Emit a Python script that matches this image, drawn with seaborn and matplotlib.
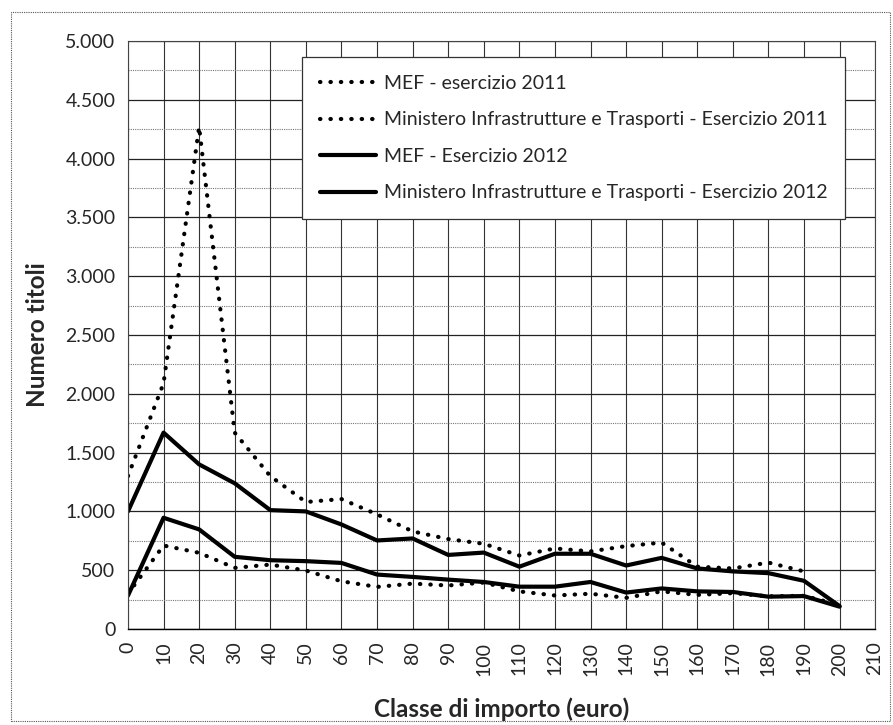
import numpy as np
import pandas as pd
import seaborn as sns
import matplotlib.pyplot as plt
from matplotlib.ticker import MultipleLocator, FuncFormatter
from matplotlib.patches import Rectangle

# dati
classi = list(range(0, 210, 10))
mef_2011 = [1300, 2090, 4270, 1670, 1300, 1080, 1105, 975, 830, 765, 725,
            625, 685, 660, 705, 735, 530, 515, 565, 490]
mit_2011 = [300, 710, 648, 520, 548, 497, 406, 358, 386, 370, 395,
            320, 285, 300, 265, 320, 290, 305, 278, 282, 205]
mef_2012 = [1000, 1670, 1400, 1239, 1011, 1000, 889, 753, 770, 630, 650,
            530, 640, 640, 540, 605, 515, 490, 475, 410, 195]
mit_2012 = [284, 946, 847, 614, 585, 577, 562, 463, 443, 420, 400,
            360, 360, 400, 310, 345, 320, 315, 275, 280, 190]

etichette = ["MEF - esercizio 2011",
             "Ministero Infrastrutture e Trasporti - Esercizio 2011",
             "MEF - Esercizio 2012",
             "Ministero Infrastrutture e Trasporti - Esercizio 2012"]
serie = [mef_2011, mit_2011, mef_2012, mit_2012]

sns.set_style("white")
plt.rcParams['font.family'] = ['Lato', 'DejaVu Sans']

fig = plt.figure(figsize=(8.93, 7.25), dpi=100)
ax = fig.add_axes([0.1433, 0.1324, 0.8367, 0.811])

dotted = (0, (0.1, 2.4))
for nome, valori in zip(etichette, serie):
    df = pd.DataFrame({"classe": classi[:len(valori)], "titoli": valori})
    stile = dotted if "2011" in nome else "-"
    sns.lineplot(data=df, x="classe", y="titoli", ax=ax, color="black",
                 lw=3.0, linestyle=stile, dash_capstyle="round", label=nome)

ax.set_xlim(0, 210)
ax.set_ylim(0, 5000)
ax.xaxis.set_major_locator(MultipleLocator(10))
ax.yaxis.set_major_locator(MultipleLocator(500))
ax.yaxis.set_minor_locator(MultipleLocator(250))
ax.yaxis.set_major_formatter(FuncFormatter(lambda v, p: f"{int(v):,}".replace(",", ".")))

ax.grid(axis="y", which="major", color="#222222", lw=0.9)
ax.grid(axis="y", which="minor", color="#777777", lw=0.8, linestyle=(0, (1, 1)))
ax.grid(axis="x", which="major", color="#333333", lw=0.8)
ax.set_axisbelow(True)
for s in ax.spines.values():
    s.set_color("#444444")
    s.set_linewidth(0.8)
ax.spines["bottom"].set_color("black")
ax.spines["bottom"].set_linewidth(1.0)

ax.tick_params(axis="both", which="major", direction="out", length=5,
               width=0.8, color="#333333", labelsize=14, pad=4)
ax.tick_params(axis="y", which="minor", length=0)
plt.setp(ax.get_xticklabels(), rotation=90)

ax.set_xlabel("Classe di importo (euro)", fontsize=17.5, fontweight="bold", labelpad=16)
ax.set_ylabel("Numero titoli", fontsize=17.5, fontweight="bold", labelpad=12)

leg = ax.legend(loc="upper left", bbox_to_anchor=(0.233, 0.972), fontsize=14,
                frameon=True, fancybox=False, handlelength=2.9,
                labelspacing=1.0, borderpad=0.9, handletextpad=0.4,
                borderaxespad=0)
leg.get_frame().set_edgecolor("#333333")
leg.get_frame().set_linewidth(0.9)
leg.get_frame().set_alpha(1)

fig.patches.append(Rectangle((0.012, 0.005), 0.985, 0.978, transform=fig.transFigure,
                             fill=False, edgecolor="#555555", lw=0.8,
                             linestyle=(0, (1, 1))))

fig.savefig("out.png", dpi=100)
